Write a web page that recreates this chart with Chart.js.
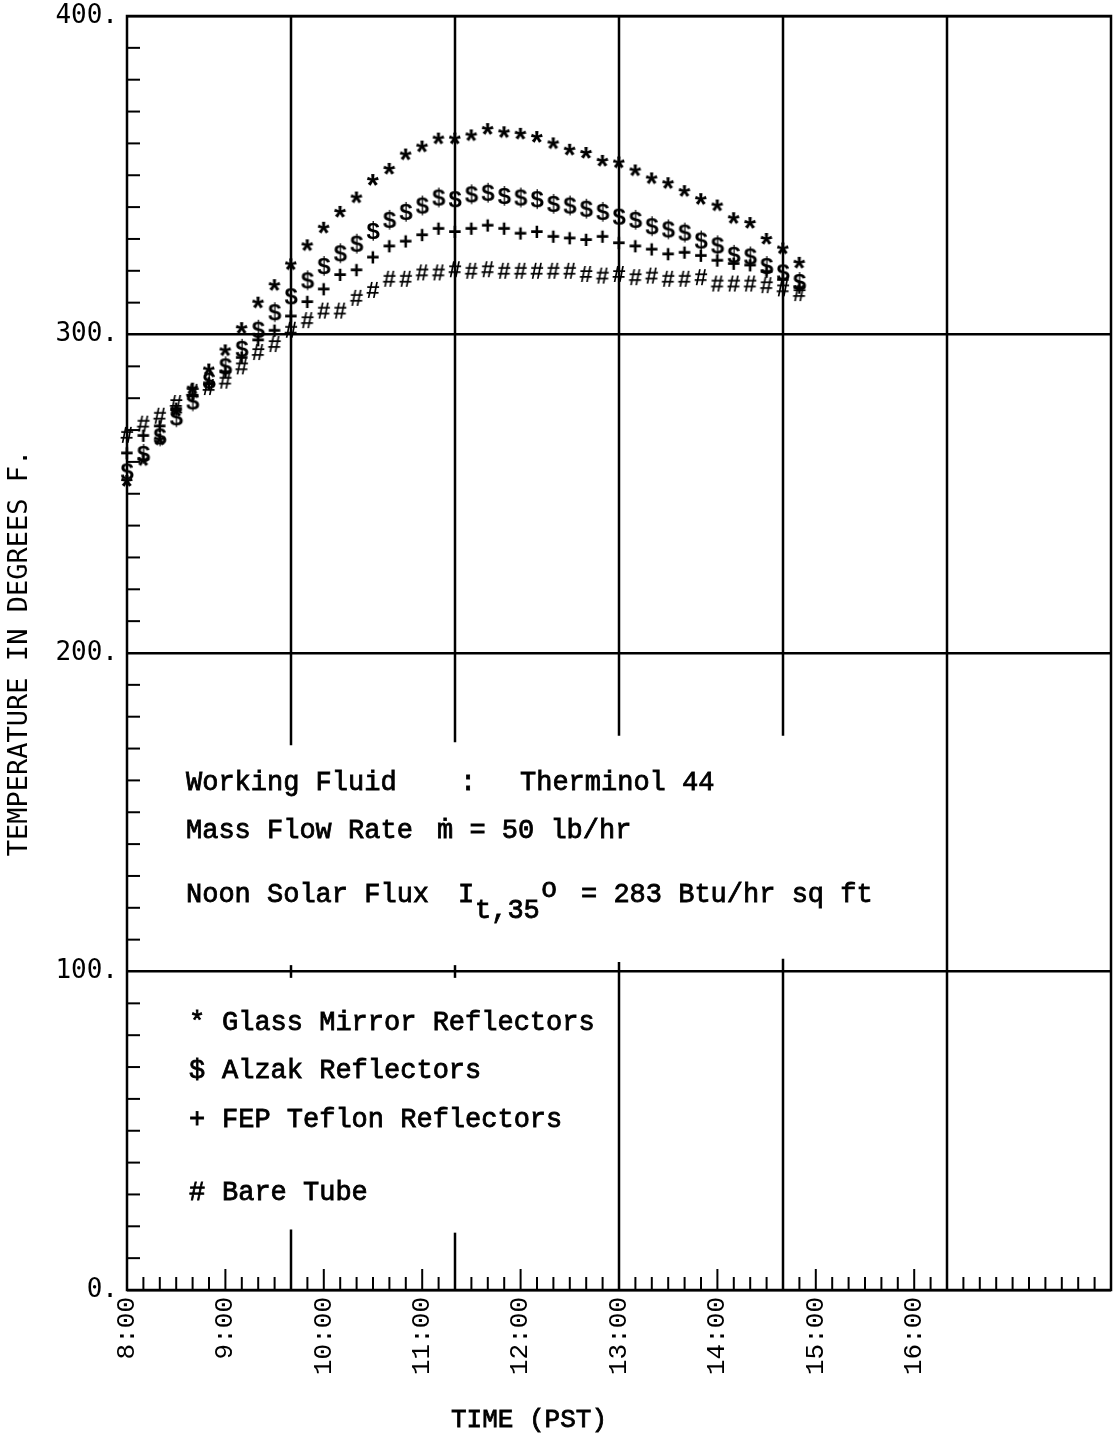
<!DOCTYPE html>
<html>
<head>
<meta charset="utf-8">
<script src="https://cdn.jsdelivr.net/npm/chart.js@4.4.1/dist/chart.umd.min.js"></script>
<style>
html,body{margin:0;padding:0;background:#fff;}
#wrap{width:1120px;height:1437px;position:relative;}
</style>
</head>
<body>
<div id="wrap"><canvas id="c" width="1120" height="1437"></canvas></div>
<script>
// ---- DATA (minutes after 8:00 PST, temperature in °F) ----
const times = [0,10,20,30,40,50,60,70,80,90,100,110,120,130,140,150,160,170,180,190,200,210,220,230,240,250,260,270,280,290,300,310,320,330,340,350,360,370,380,390,400,410];

const glassMirror = [254,260.5,267,276,283,289,295,302,310,315.5,322,328,333.5,338.5,343,348.5,352,356.5,359,361.5,361.5,362.5,364.5,363.5,363,362,360,358,357,354.5,354,351.5,349,347.5,345,342.5,340.5,336.5,335,330,327,322.5];

const alzak = [257,262.5,268,274,279,285.5,290,295.5,301.5,307,312,317,321.5,325.5,328.5,332.5,336,338.5,340.5,343,342.5,344,344.5,343.5,343,342.5,341,340.5,339.5,338.5,337,336,334,333,332,329.5,328,325,324.5,321.5,319.5,316.5];

const fepTeflon = [263,268.5,271.5,277,281,285,288.5,293,298.5,301.5,306,310.5,314.5,319,320.5,324.5,328,329.5,331.5,333.5,332.5,333.5,334.5,333.5,332,332.5,331,330.5,330,331,329,328,327,325.5,326,325,323.5,322.5,322,320,317.5,315];

const bareTube = [268.5,272,274.5,278.5,282,283.5,285.5,290,294.5,297,301.5,304.5,307.5,307.5,311.5,314,317.5,317.5,319.5,319.5,320.5,320,320.5,320,320,320,320,320,319,318.5,319,318,318.5,317.5,317.5,318,316,316,316,315.5,314.5,313];

const seriesNames = ['Glass Mirror Reflectors','Alzak Reflectors','FEP Teflon Reflectors','Bare Tube'];
const seriesSymbols = ['*','$','+','#'];

// x tick labels every 60 minutes from 8:00
const hourLabels = ['8:00','9:00','10:00','11:00','12:00','13:00','14:00','15:00','16:00'];

const infoLines = [
  ['Working Fluid', ':', 'Therminol 44'],
  ['Mass Flow Rate', 'ṁ = 50 lb/hr'],
  ['Noon Solar Flux', 'I', 't,35', 'o', '= 283 Btu/hr sq ft']
];

// ---- glyph markers ----
function glyph(ch, size) {
  const c = document.createElement('canvas');
  c.width = 32; c.height = 32;
  const g = c.getContext('2d');
  g.font = 'bold ' + size + 'px "Liberation Mono", monospace';
  const m = g.measureText(ch);
  const w = m.actualBoundingBoxLeft + m.actualBoundingBoxRight;
  const h = m.actualBoundingBoxAscent + m.actualBoundingBoxDescent;
  g.fillStyle = '#000';
  g.fillText(ch, (c.width - w) / 2 + m.actualBoundingBoxLeft, (c.height - h) / 2 + m.actualBoundingBoxAscent);
  return c;
}
const glyphSizes = {'*': 31, '$': 24, '+': 23, '#': 23};

const seriesValues = [glassMirror, alzak, fepTeflon, bareTube];
const datasets = seriesValues.map((vals, i) => ({
  label: seriesNames[i],
  data: vals.map((v, j) => ({x: times[j], y: v})),
  showLine: false,
  clip: false,
  pointStyle: glyph(seriesSymbols[i], glyphSizes[seriesSymbols[i]]),
  pointRadius: 8,
  pointHoverRadius: 8
}));

const MONO = '"Liberation Mono", "Courier New", monospace';
const PLOT = '"DejaVu Sans Mono", monospace';

function heavyText(ctx, s, x, y) {
  ctx.fillText(s, x, y);
  ctx.strokeText(s, x, y);
}

const framePlugin = {
  id: 'frame',
  beforeDatasetsDraw(chart) {
    const {ctx, chartArea: a, scales: {x, y}} = chart;
    ctx.save();
    ctx.strokeStyle = '#000';
    ctx.lineCap = 'butt';
    ctx.lineWidth = 2.5;
    ctx.strokeRect(a.left, a.top, a.right - a.left, a.bottom - a.top);
    // vertical grid segments (interrupted behind the text blocks)
    const segs = [
      [100, 400, 171], [100, 19, 0], [100, 102, 98],
      [200, 400, 172], [200, 18, 0], [200, 102, 98],
      [300, 400, 174], [300, 103, 0],
      [400, 400, 174], [400, 104, 0],
      [500, 400, 0]
    ];
    segs.forEach(([t, a1, a2]) => {
      const px = x.getPixelForValue(t);
      ctx.beginPath();
      ctx.moveTo(px, y.getPixelForValue(a1));
      ctx.lineTo(px, y.getPixelForValue(a2));
      ctx.stroke();
    });
    // inner ticks, y axis
    ctx.lineWidth = 2;
    y.ticks.forEach(tk => {
      if (tk.value % 100 === 0) return;
      const py = y.getPixelForValue(tk.value);
      ctx.beginPath();
      ctx.moveTo(a.left, py);
      ctx.lineTo(a.left + 13, py);
      ctx.stroke();
    });
    // inner ticks, x axis
    x.ticks.forEach(tk => {
      const v = tk.value;
      if (v % 100 === 0) return;
      const px = x.getPixelForValue(v);
      const long = (v % 60 === 0) && (v / 60 < hourLabels.length);
      ctx.beginPath();
      ctx.moveTo(px, a.bottom);
      ctx.lineTo(px, a.bottom - (long ? 21 : 13));
      ctx.stroke();
    });
    ctx.restore();
  },
  afterDraw(chart) {
    const {ctx} = chart;
    ctx.save();
    ctx.fillStyle = '#000';
    ctx.strokeStyle = '#000';
    ctx.lineWidth = 0.8;
    ctx.textBaseline = 'alphabetic';
    ctx.textAlign = 'left';
    ctx.font = '27px ' + MONO;
    heavyText(ctx, infoLines[0][0], 186, 790);
    heavyText(ctx, infoLines[0][1], 460, 790);
    heavyText(ctx, infoLines[0][2], 520, 790);
    heavyText(ctx, infoLines[1][0], 186, 838);
    heavyText(ctx, infoLines[1][1], 437, 838);
    heavyText(ctx, infoLines[2][0], 186, 902);
    heavyText(ctx, infoLines[2][1], 458, 902);
    heavyText(ctx, infoLines[2][2], 475, 918);
    heavyText(ctx, infoLines[2][3], 541, 897);
    heavyText(ctx, infoLines[2][4], 581, 902);
    const legY = [1030, 1078, 1127, 1200];
    seriesNames.forEach((n, i) => {
      heavyText(ctx, seriesSymbols[i], 189, legY[i]);
      heavyText(ctx, n, 222, legY[i]);
    });
    ctx.font = '26px ' + MONO;
    ctx.textAlign = 'center';
    heavyText(ctx, 'TIME (PST)', 529, 1427);
    ctx.restore();
  }
};

new Chart(document.getElementById('c'), {
  type: 'scatter',
  data: {datasets},
  options: {
    responsive: false,
    animation: false,
    events: [],
    layout: {padding: {top: 16, right: 4, left: 0, bottom: 0}},
    plugins: {legend: {display: false}, tooltip: {enabled: false}},
    scales: {
      x: {
        type: 'linear', min: 0, max: 600,
        afterFit(s) { s.height = 147; s.paddingLeft = 0; s.paddingRight = 0; },
        border: {display: false},
        grid: {display: false, drawTicks: false},
        ticks: {
          stepSize: 10, autoSkip: false, maxRotation: 90, minRotation: 90,
          padding: 7, color: '#000',
          font: {family: MONO, size: 26},
          callback: v => (v % 60 === 0 && v / 60 < hourLabels.length) ? hourLabels[v / 60] : ''
        }
      },
      y: {
        min: 0, max: 400,
        afterFit(s) { s.width = 127; s.paddingTop = 0; s.paddingBottom = 0; },
        border: {display: false},
        grid: {
          drawTicks: false, lineWidth: 2.5,
          color: c => (c.tick && c.tick.value % 100 === 0) ? '#000' : 'rgba(0,0,0,0)'
        },
        ticks: {
          stepSize: 10, autoSkip: false, padding: 9, color: '#000',
          font: {family: PLOT, size: 26},
          callback: v => (v % 100 === 0) ? v + '.' : ''
        },
        title: {
          display: true, text: 'TEMPERATURE IN DEGREES F.', color: '#000',
          font: {family: PLOT, size: 27}, padding: {top: 4, bottom: 0}
        }
      }
    }
  },
  plugins: [framePlugin]
});
</script>
</body>
</html>
